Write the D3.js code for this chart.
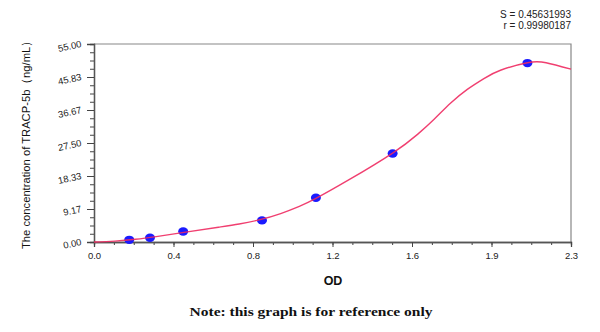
<!DOCTYPE html>
<html>
<head>
<meta charset="utf-8">
<script src="https://cdn.jsdelivr.net/npm/d3@7"></script>
<style>
  html, body { margin: 0; padding: 0; background: #fff; }
  svg { display: block; }
</style>
</head>
<body>
<svg id="chart" width="600" height="332"></svg>
<script>
// ---- data ----
const pointOD   = [0.17, 0.27, 0.43, 0.81, 1.07, 1.44, 2.09];
const pointConc = [0.6, 1.2, 2.9, 6.0, 12.3, 24.6, 49.7];

const curveOD   = [0, 0.1, 0.2, 0.3, 0.45, 0.6, 0.7, 0.8, 0.9, 0.99, 1.07, 1.23, 1.44, 1.56, 1.64, 1.72, 1.80, 1.88, 1.96, 2.09, 2.18, 2.3];
const curveConc = [0, 0.25, 0.75, 1.5, 2.8, 4.1, 5.0, 6.2, 7.9, 9.9, 12.1, 17.3, 24.7, 29.9, 34.1, 38.6, 42.4, 45.4, 47.7, 49.8, 49.8, 48.0];

const xTickLabels = ["0.0", "0.4", "0.8", "1.2", "1.6", "1.9", "2.3"];
const yTickLabels = ["0.00", "9.17", "18.33", "27.50", "36.67", "45.83", "55.00"];

const statLines = ["S = 0.45631993", "r = 0.99980187"];
const xTitle = "OD";
const yTitle = "The concentration of TRACP-5b（ng/mL）";
const note = "Note: this graph is for reference only";

// ---- layout ----
const svg = d3.select("#chart");
const L = 94, R = 571, T = 44, B = 242;
const xMax = 2.3, yMax = 55;

const x = d3.scaleLinear().domain([0, xMax]).range([L, R]);
const y = d3.scaleLinear().domain([0, yMax]).range([B, T]);

const nMajor = xTickLabels.length - 1;
const xMajor = d3.range(nMajor + 1).map(i => i * xMax / nMajor);
const xMinor = d3.range(nMajor * 4 + 1).map(i => i * xMax / (nMajor * 4));
const yMajor = d3.range(yTickLabels.length).map(i => i * yMax / (yTickLabels.length - 1));
const yMinor = d3.range((yTickLabels.length - 1) * 4 + 1).map(i => i * yMax / ((yTickLabels.length - 1) * 4));

// frame (top/right border)
svg.append("path")
  .attr("d", `M${L},${T}H${R}V${B}`)
  .attr("fill", "none").attr("stroke", "#888").attr("stroke-width", 1.2);

// X axis
const xAxisMinor = d3.axisBottom(x).tickValues(xMinor).tickSize(3).tickFormat("");
const xAxisMajor = d3.axisBottom(x).tickValues(xMajor).tickSize(5)
  .tickFormat((d, i) => xTickLabels[i]).tickPadding(5);
const gxm = svg.append("g").attr("transform", `translate(0,${B})`).call(xAxisMinor);
const gx = svg.append("g").attr("transform", `translate(0,${B})`).call(xAxisMajor);
[gxm, gx].forEach(g => {
  g.select(".domain").attr("stroke", "#555").attr("stroke-width", 1.3);
  g.selectAll(".tick line").attr("stroke", "#444");
});
gx.selectAll(".tick text")
  .attr("font-family", "Liberation Sans, Arial, sans-serif")
  .attr("font-size", 9.5).attr("fill", "#222");

// Y axis
const yAxisMinor = d3.axisLeft(y).tickValues(yMinor).tickSize(4).tickFormat("");
const yAxisMajor = d3.axisLeft(y).tickValues(yMajor).tickSize(7).tickFormat("");
const gym = svg.append("g").attr("transform", `translate(${L},0)`).call(yAxisMinor);
const gy = svg.append("g").attr("transform", `translate(${L},0)`).call(yAxisMajor);
[gym, gy].forEach(g => {
  g.select(".domain").attr("stroke", "#555").attr("stroke-width", 1.3);
  g.selectAll(".tick line").attr("stroke", "#444");
});
// slanted Y tick labels
svg.append("g").selectAll("text")
  .data(yMajor)
  .join("text")
  .attr("transform", d => `translate(${L - 12},${y(d) + 3}) rotate(-12)`)
  .attr("text-anchor", "end")
  .attr("font-family", "Liberation Sans, Arial, sans-serif")
  .attr("font-size", 9.5).attr("fill", "#222")
  .text((d, i) => yTickLabels[i]);

// points
svg.append("g").selectAll("ellipse")
  .data(pointOD.map((d, i) => [d, pointConc[i]]))
  .join("ellipse")
  .attr("cx", d => x(d[0])).attr("cy", d => y(d[1]))
  .attr("rx", 5).attr("ry", 4.2)
  .attr("fill", "#1a1aff");

// fitted curve
const line = d3.line()
  .x(d => x(d[0])).y(d => y(d[1]))
  .curve(d3.curveNatural);
svg.append("path")
  .datum(curveOD.map((d, i) => [d, curveConc[i]]))
  .attr("d", line)
  .attr("fill", "none")
  .attr("stroke", "#ee2a60").attr("stroke-opacity", 0.9)
  .attr("stroke-width", 1.4);

// stats text
svg.append("g").selectAll("text")
  .data(statLines)
  .join("text")
  .attr("x", 571).attr("y", (d, i) => 18 + i * 10.5)
  .attr("text-anchor", "end")
  .attr("font-family", "Liberation Sans, Arial, sans-serif")
  .attr("font-size", 10).attr("fill", "#222")
  .text(d => d);

// axis titles
svg.append("text")
  .attr("x", 333).attr("y", 285)
  .attr("text-anchor", "middle")
  .attr("font-family", "Liberation Sans, Arial, sans-serif")
  .attr("font-weight", "bold").attr("font-size", 12.5).attr("fill", "#111")
  .text(xTitle);

svg.append("text")
  .attr("transform", "translate(30,142) rotate(-90)")
  .attr("text-anchor", "middle")
  .attr("font-family", "Liberation Sans Narrow, Liberation Sans, Arial, sans-serif")
  .attr("font-size", 11.5).attr("fill", "#111")
  .attr("textLength", 214).attr("lengthAdjust", "spacingAndGlyphs")
  .text(yTitle);

// note
svg.append("text")
  .attr("x", 311).attr("y", 316)
  .attr("text-anchor", "middle")
  .attr("font-family", "Liberation Serif, Times New Roman, serif")
  .attr("font-weight", "bold").attr("font-size", 13.5).attr("fill", "#111")
  .attr("textLength", 243).attr("lengthAdjust", "spacingAndGlyphs")
  .text(note);
</script>
</body>
</html>
